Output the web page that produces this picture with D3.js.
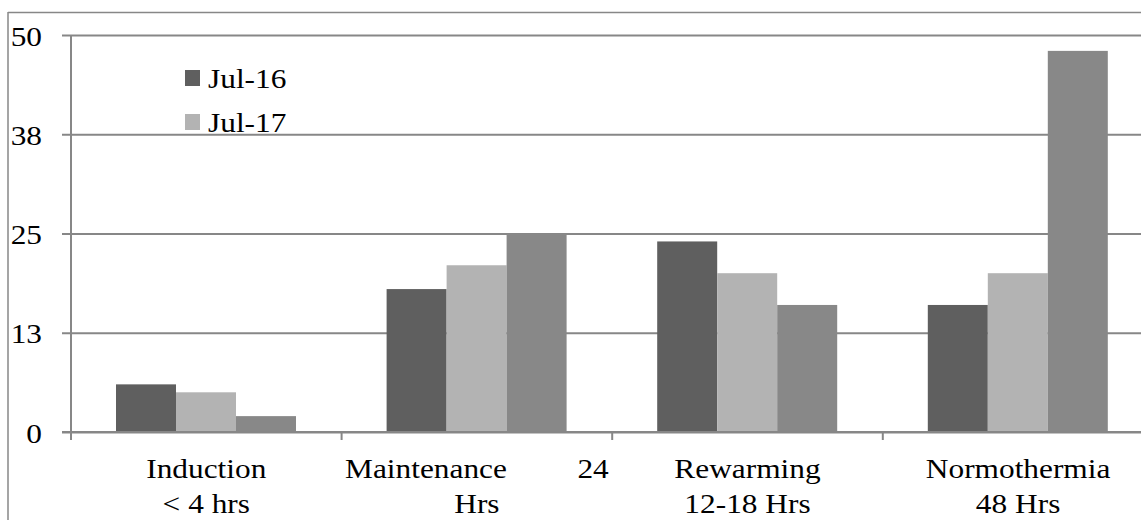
<!DOCTYPE html>
<html>
<head>
<meta charset="utf-8">
<script src="https://cdn.jsdelivr.net/npm/d3@7"></script>
<style>
  html, body { margin: 0; padding: 0; background: #fff; }
  svg { display: block; }
  text { font-family: "Liberation Serif", "Times New Roman", serif; fill: #000; white-space: pre; }
</style>
</head>
<body>
<svg id="chart" width="1141" height="520"></svg>
<script>
// ---- data ----
const categories = ["Induction", "Maintenance", "Rewarming", "Normothermia"];
const categoryLines = [
  ["Induction", "< 4 hrs"],
  ["Maintenance         24", "Hrs"],
  ["Rewarming", "12-18 Hrs"],
  ["Normothermia", "48 Hrs"]
];
const seriesNames = ["Jul-16", "Jul-17", "Series 3"];
const legendNames = ["Jul-16", "Jul-17"];
const series1 = [6, 18, 24, 16];
const series2 = [5, 21, 20, 20];
const series3 = [2, 25, 16, 48];
const yTickValues = [0, 12.5, 25, 37.5, 50];
const yTickLabels = ["0", "13", "25", "38", "50"];
const colors = ["#5f5f5f", "#b3b3b3", "#888888"];

// ---- layout ----
const svg = d3.select("#chart");
const W = 1141, H = 520;
const plotLeft = 71, plotTop = 35, plotBottom = 432;
const step = 270.6;
const plotRight = plotLeft + step * categories.length;
const fontSize = 28, stretch = 1.12;
const gridColor = "#878787";

const allSeries = [series1, series2, series3];

const x = d3.scaleBand().domain(categories).range([plotLeft, plotRight]).padding(0);
const xInner = d3.scaleBand().domain(seriesNames).range([45, step - 45.6]).padding(0);
const y = d3.scaleLinear().domain([0, 50]).range([plotBottom, plotTop]);

// outer border (chart area frame)
svg.append("line").attr("x1", 8).attr("x2", W).attr("y1", 12.5).attr("y2", 12.5)
  .attr("stroke", gridColor).attr("stroke-width", 1.5);
svg.append("line").attr("x1", 8).attr("x2", 8).attr("y1", 12).attr("y2", H)
  .attr("stroke", gridColor).attr("stroke-width", 1.5);

// gridlines + y ticks
const yAxis = d3.axisLeft(y).tickValues(yTickValues)
  .tickSize(-(plotRight - plotLeft)).tickSizeOuter(0).tickFormat("");
const gy = svg.append("g").attr("transform", `translate(${plotLeft},0)`).call(yAxis);
gy.select(".domain").remove();
gy.selectAll(".tick line").attr("stroke", gridColor).attr("stroke-width", 2)
  .attr("x1", -9);

// y-axis line
svg.append("line").attr("x1", plotLeft).attr("x2", plotLeft)
  .attr("y1", y(50)).attr("y2", plotBottom + 1)
  .attr("stroke", gridColor).attr("stroke-width", 2);

// y tick labels
const stretchedText = (g, px, py, txt, anchor) => {
  const t = g.append("g").attr("transform", `translate(${px},${py}) scale(${stretch},1)`);
  t.append("text").attr("x", 0).attr("y", 0).attr("text-anchor", anchor)
    .style("font-size", fontSize + "px").text(txt);
};
yTickValues.forEach((v, i) => {
  stretchedText(svg, 42, y(v) + 10.5, yTickLabels[i], "end");
});

// bars
allSeries.forEach((vals, si) => {
  svg.append("g").selectAll("rect").data(vals).join("rect")
    .attr("x", (d, i) => x(categories[i]) + xInner(seriesNames[si]))
    .attr("width", xInner.bandwidth())
    .attr("y", d => y(d))
    .attr("height", d => y(0) - y(d))
    .attr("fill", colors[si]);
});

// x axis
const xAxis = d3.axisBottom(x).tickSize(0).tickFormat("");
const gx = svg.append("g").attr("transform", `translate(0,${plotBottom})`).call(xAxis);
gx.select(".domain").remove();
svg.append("line").attr("x1", plotLeft - 9).attr("x2", W)
  .attr("y1", plotBottom).attr("y2", plotBottom)
  .attr("stroke", gridColor).attr("stroke-width", 2);
// category boundary ticks
const boundaries = categories.map(c => x(c)).concat([plotRight]);
svg.append("g").selectAll("line").data(boundaries).join("line")
  .attr("x1", d => d).attr("x2", d => d)
  .attr("y1", plotBottom).attr("y2", plotBottom + 8)
  .attr("stroke", gridColor).attr("stroke-width", 2);

// category labels
categories.forEach((c, i) => {
  const cx = x(c) + x.bandwidth() / 2;
  categoryLines[i].forEach((line, li) => {
    stretchedText(svg, cx, 478 + li * 35, line, "middle");
  });
});

// legend
legendNames.forEach((name, i) => {
  const ly = 70 + i * 44;
  svg.append("rect").attr("x", 185).attr("y", ly).attr("width", 15).attr("height", 16)
    .attr("fill", colors[i]);
  stretchedText(svg, 208, ly + 18, name, "start");
});
</script>
</body>
</html>
